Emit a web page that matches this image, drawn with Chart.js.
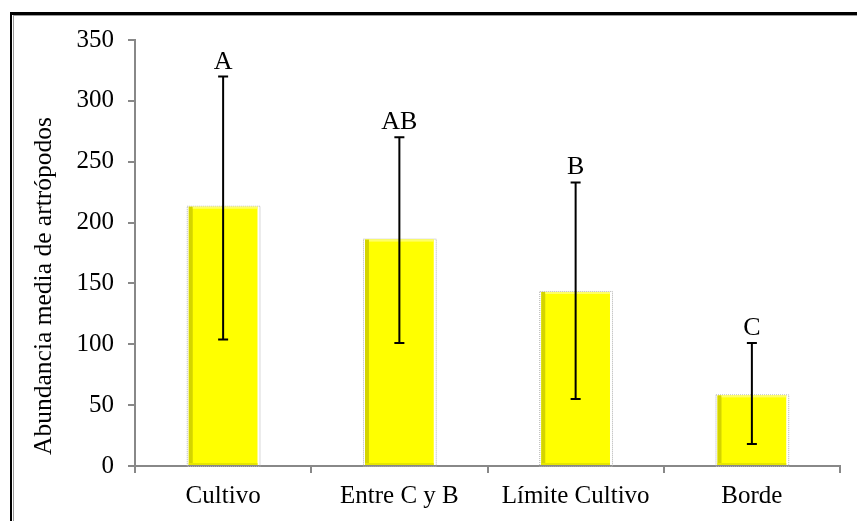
<!DOCTYPE html>
<html>
<head>
<meta charset="utf-8">
<script src="https://cdn.jsdelivr.net/npm/chart.js@4.4.1/dist/chart.umd.min.js"></script>
<style>
html,body{margin:0;padding:0;background:#fff;}
#wrap{position:relative;width:857px;height:521px;}
canvas{display:block;}
</style>
</head>
<body>
<div id="wrap"><canvas id="c" width="857" height="521"></canvas></div>
<script>
const categories = ['Cultivo', 'Entre C y B', 'Límite Cultivo', 'Borde'];
const means = [213, 186, 143, 58];
const errUpper = [320, 270, 233, 101];
const errLower = [104, 101, 55, 18];
const groupLetters = ['A', 'AB', 'B', 'C'];
const yTicks = [0, 50, 100, 150, 200, 250, 300, 350];
const yTitle = 'Abundancia media de artrópodos';

const FONT = "'Liberation Serif', 'Times New Roman', serif";

const framePlugin = {
  id: 'frame',
  afterDraw(chart) {
    const ctx = chart.ctx;
    ctx.save();
    ctx.fillStyle = '#000';
    ctx.fillRect(10, 12, 847, 3);
    ctx.fillRect(10, 12, 2, 509);
    ctx.fillStyle = '#9a9a9a';
    ctx.fillRect(13, 15, 844, 1);
    ctx.fillRect(13, 15, 1, 506);
    ctx.fillStyle = '#000';
    ctx.font = '25.5px ' + FONT;
    ctx.textAlign = 'center';
    ctx.textBaseline = 'middle';
    ctx.translate(44, 286);
    ctx.rotate(-Math.PI / 2);
    ctx.fillText(yTitle, 0, 0);
    ctx.restore();
  }
};

const barDecor = {
  id: 'barDecor',
  beforeDatasetsDraw(chart) {
    const ctx = chart.ctx;
    const meta = chart.getDatasetMeta(0);
    ctx.save();
    ctx.strokeStyle = '#b0b0b0';
    ctx.lineWidth = 1;
    ctx.setLineDash([1, 1]);
    meta.data.forEach(bar => {
      const p = bar.getProps(['x', 'y', 'base', 'width'], true);
      const l = p.x - p.width / 2 - 2, r = p.x + p.width / 2 + 2;
      ctx.strokeRect(l + 0.5, p.y - 1 + 0.5, r - l, p.base - p.y + 2);
    });
    ctx.restore();
  },
  afterDatasetsDraw(chart) {
    const ctx = chart.ctx;
    const meta = chart.getDatasetMeta(0);
    const ys = chart.scales.y;
    ctx.save();
    meta.data.forEach((bar, i) => {
      const p = bar.getProps(['x', 'y', 'base', 'width'], true);
      const l = p.x - p.width / 2;
      ctx.fillStyle = '#d4d400';
      ctx.fillRect(l, p.y, 4, p.base - p.y);
      ctx.fillStyle = '#e6e600';
      ctx.fillRect(l, p.base - 2, p.width, 2);
      ctx.fillStyle = '#ffff66';
      ctx.fillRect(l + 4, p.y, p.width - 4, 2);
      const yHi = ys.getPixelForValue(errUpper[i]);
      const yLo = ys.getPixelForValue(errLower[i]);
      ctx.strokeStyle = '#000';
      ctx.lineWidth = 2;
      ctx.beginPath();
      ctx.moveTo(p.x, yHi); ctx.lineTo(p.x, yLo);
      ctx.moveTo(p.x - 5, yHi); ctx.lineTo(p.x + 5, yHi);
      ctx.moveTo(p.x - 5, yLo); ctx.lineTo(p.x + 5, yLo);
      ctx.stroke();
      ctx.fillStyle = '#000';
      ctx.font = '26px ' + FONT;
      ctx.textAlign = 'center';
      ctx.textBaseline = 'alphabetic';
      ctx.fillText(groupLetters[i], p.x, yHi - 8);
    });
    ctx.restore();
  }
};

new Chart(document.getElementById('c'), {
  type: 'bar',
  data: {
    labels: categories,
    datasets: [{
      data: means,
      backgroundColor: '#ffff00',
      borderWidth: 0,
      barPercentage: 0.39,
      categoryPercentage: 1.0
    }]
  },
  options: {
    responsive: false,
    animation: false,
    events: [],
    layout: { padding: { top: 40, right: 17, bottom: 0, left: 0 } },
    plugins: { legend: { display: false }, tooltip: { enabled: false } },
    scales: {
      x: {
        afterFit(s) { s.height = 55; },
        grid: { offset: true, drawOnChartArea: false, drawTicks: true, tickLength: 7, color: '#888', lineWidth: 2 },
        border: { color: '#888', width: 2 },
        ticks: { color: '#000', font: { family: FONT, size: 25 }, padding: 8 }
      },
      y: {
        min: 0, max: 350,
        afterFit(s) { s.width = 135; },
        afterBuildTicks(s) { s.ticks = yTicks.map(v => ({ value: v })); },
        grid: { drawOnChartArea: false, drawTicks: true, tickLength: 7, color: '#888', lineWidth: 2 },
        border: { color: '#888', width: 2 },
        ticks: { color: '#000', font: { family: FONT, size: 25 }, padding: 14 },
        title: { display: false }
      }
    }
  },
  plugins: [framePlugin, barDecor]
});
</script>
</body>
</html>
